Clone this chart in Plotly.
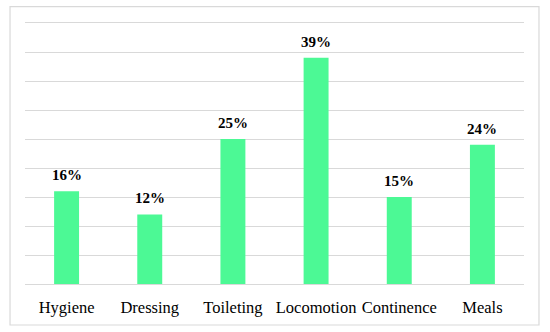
import plotly.graph_objects as go

categories = ["Hygiene", "Dressing", "Toileting", "Locomotion", "Continence", "Meals"]
values = [16, 12, 25, 39, 15, 24]
value_labels = ["16%", "12%", "25%", "39%", "15%", "24%"]

bar_color = "#4CF995"
grid_color = "#d9d9d9"

fig = go.Figure()
fig.add_trace(go.Bar(x=categories, y=values, marker=dict(color=bar_color, line=dict(width=0)),
                     hoverinfo="skip"))

for c, v, t in zip(categories, values, value_labels):
    fig.add_annotation(x=c, y=v, text="<b>%s</b>" % t, showarrow=False, yanchor="bottom",
                       yshift=6, font=dict(family="Liberation Serif", size=15, color="#000000"))

fig.add_shape(type="rect", xref="paper", yref="paper", x0=-0.030, x1=1.030, y0=-0.157, y1=1.0625,
              line=dict(color=grid_color, width=1.2), fillcolor="rgba(0,0,0,0)", layer="below")

fig.update_layout(
    width=550, height=332,
    margin=dict(l=25, r=26, t=23, b=48),
    paper_bgcolor="white", plot_bgcolor="white",
    bargap=0.7,
    showlegend=False,
    xaxis=dict(showgrid=False, showline=True, mirror=True, linecolor=grid_color, linewidth=1, ticks="",
               tickfont=dict(family="Liberation Serif", size=16.5, color="#000000"),
               ticklabelstandoff=8),
    yaxis=dict(range=[0, 45], dtick=5, showticklabels=False, showgrid=True, gridcolor=grid_color,
               gridwidth=1, zeroline=False, ticks=""),
)

fig.write_html("out.html", config={"displayModeBar": False},
               post_script="document.body.style.margin='0';")
